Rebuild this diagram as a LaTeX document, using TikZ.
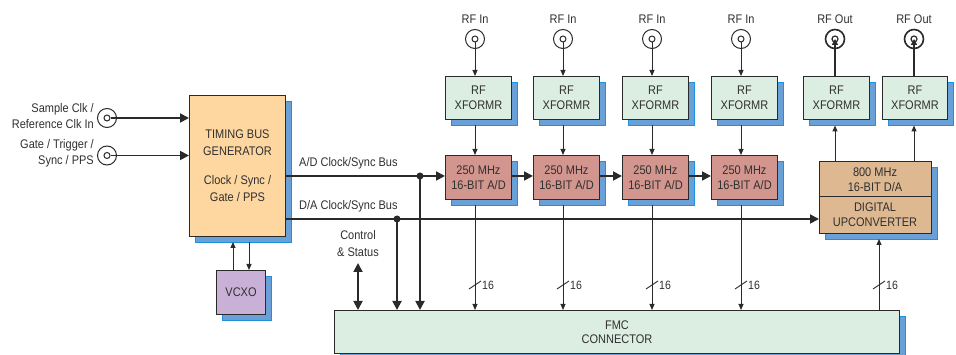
\documentclass[tikz,border=0pt]{standalone}
\usepackage{fontspec}
\setmainfont{Liberation Sans}[FakeStretch=0.88]
\usetikzlibrary{arrows.meta,shadows}
\definecolor{linec}{HTML}{2A2A2A}
\definecolor{txtc}{HTML}{303030}
\definecolor{orng}{HTML}{FDD6A0}
\definecolor{adcc}{HTML}{D2968F}
\definecolor{grn}{HTML}{DCEEE2}
\definecolor{vcx}{HTML}{C8B0D6}
\definecolor{tan}{HTML}{DEB891}
\definecolor{shfill}{HTML}{6AA0D8}
\definecolor{shedge}{HTML}{1E90E0}
\begin{document}
\begin{tikzpicture}[x=1pt,y=-1pt,
  blk/.style={draw=linec, line width=1pt, inner sep=0pt, align=center, text=txtc,
    font=\fontsize{12.5}{15}\selectfont, anchor=north west,
    drop shadow={shadow xshift=5.5pt,shadow yshift=-5.5pt,fill=shfill,draw=shedge,line width=0.8pt,opacity=1}},
  lbl/.style={inner sep=0pt, text=txtc, font=\fontsize{12.5}{15}\selectfont, align=center},
  outc/.style={circle, draw=linec, line width=1pt, minimum size=19pt, inner sep=0pt},
  inc/.style={circle, draw=linec, line width=1pt, minimum size=6pt, inner sep=0pt},
  big/.style={draw=linec, line width=1.8pt, -{Triangle[length=9pt,width=9pt]}},
  small/.style={draw=linec, line width=1pt, -{Triangle[length=6pt,width=5pt]}},
  dot/.style={circle, fill=linec, minimum size=7pt, inner sep=0pt},
  slash/.style={draw=linec, line width=0.9pt}
]
\useasboundingbox (0,0) rectangle (956,355);

% ---------- blocks ----------
\node[blk, fill=orng, minimum width=96pt, minimum height=141pt,
      font=\fontsize{12.5}{17}\selectfont] (tbg) at (189,95)
  {TIMING BUS\\GENERATOR\\[12pt]Clock / Sync /\\Gate / PPS};
\node[blk, fill=vcx, minimum width=49pt, minimum height=44pt] (vcxo) at (216,270) {VCXO};
\node[blk, fill=grn, minimum width=565pt, minimum height=43pt,
      font=\fontsize{12.5}{14}\selectfont] (fmc) at (334,310) {FMC\\CONNECTOR};

\foreach \i/\bx/\lx in {1/445/475,2/533/563,3/622/652,4/711/741}{
  \node[blk, fill=grn, minimum width=66pt, minimum height=43pt] (xf\i) at (\bx,76) {RF\\XFORMR};
  \node[blk, fill=adcc, minimum width=66pt, minimum height=44pt,
        font=\fontsize{12.5}{15.5}\selectfont] (adc\i) at (\bx,155) {250 MHz\\16-BIT A/D};
  \node[outc] (rfo\i) at (\lx,39) {};
  \node[inc] (rf\i) at (\lx,39) {};
  \node[lbl] (rl\i) at (\lx,19) {RF In};
  \draw[small] (rf\i.south) -- (rf\i.south |- xf\i.north);
  \draw[small] ([yshift=-5.5pt]xf\i.south -| rf\i) -- (adc\i.north -| rf\i);
  \draw[small] ([yshift=-5.5pt]adc\i.south -| rf\i) -- (fmc.north -| rf\i);
  \coordinate (s\i) at (\lx,285);
  \draw[slash] ([shift={(-6,4)}]s\i) -- ([shift={(6,-4)}]s\i);
  \node[lbl, anchor=west, font=\fontsize{12}{14}\selectfont] (n\i) at ([xshift=7pt]s\i) {16};
}

% DUC / DAC
\node[blk, fill=tan, minimum width=112pt, minimum height=72pt] (duc) at (819,161) {};
\draw[draw=linec, line width=1pt] (duc.west |- 0,197) -- (duc.east |- 0,197);
\node[lbl] (dac) at (875,179.5) {800 MHz\\16-BIT D/A};
\node[lbl] (dup) at (875,215) {DIGITAL\\UPCONVERTER};

% RF out transformers
\node[blk, fill=grn, minimum width=66pt, minimum height=43pt] (xo1) at (803,76) {RF\\XFORMR};
\node[blk, fill=grn, minimum width=65pt, minimum height=43pt] (xo2) at (882,76) {RF\\XFORMR};
\foreach \i/\lx in {1/835,2/914}{
  \node[outc, line width=1.6pt] (ro\i) at (\lx,39) {};
  \node[inc, line width=1.2pt] (roi\i) at (\lx,39) {};
  \node[lbl] (rol\i) at (\lx,19) {RF Out};
  \draw[draw=linec, line width=1.4pt, -{Triangle[length=6pt,width=6pt]}] (xo\i.north -| ro\i) -- (ro\i.center);
  \draw[small] (duc.north -| ro\i) -- ([yshift=-5.5pt]xo\i.south -| ro\i);
}

% ---------- inputs ----------
\node[outc] (in1o) at (107,118) {};
\node[inc] (in1) at (107,118) {};
\node[outc] (in2o) at (107,155.5) {};
\node[inc] (in2) at (107,155.5) {};
\node[lbl, anchor=east, align=right, font=\fontsize{12.5}{16}\selectfont] (l1) at (94,116) {Sample Clk /\\Reference Clk In};
\node[lbl, anchor=east, align=right, font=\fontsize{12.5}{15.5}\selectfont] (l2) at (94,153.5) {Gate / Trigger /\\Sync / PPS};
\draw[big] (in1.east) -- (tbg.west |- in1);
\draw[big] (in2.east) -- (tbg.west |- in2);

% VCXO arrows
\coordinate (vu) at (233,242);
\coordinate (vd) at (249,242);
\draw[small] (vcxo.north -| vu) -- (vu);
\draw[small] (vd) -- (vcxo.north -| vd);

% ---------- buses ----------
\coordinate (adbus) at (285,176);
\coordinate (dabus) at (285,219);
\draw[big] (tbg.east |- adbus) -- (adc1.west |- adbus);
\draw[big] (tbg.east |- dabus) -- (duc.west |- dabus);
\node[dot] (d1) at (420,176) {};
\node[dot] (d2) at (397,219) {};
\draw[big] (d1.center) -- (fmc.north -| d1);
\draw[big] (d2.center) -- (fmc.north -| d2);
\draw[big] (adc1.east |- adbus) -- (adc2.west |- adbus);
\draw[big] (adc2.east |- adbus) -- (adc3.west |- adbus);
\draw[big] (adc3.east |- adbus) -- (adc4.west |- adbus);
\node[lbl, anchor=west] (adl) at (299,163) {A/D Clock/Sync Bus};
\node[lbl, anchor=west] (dal) at (299,206) {D/A Clock/Sync Bus};

% Control & Status
\node[lbl, font=\fontsize{12.5}{16.5}\selectfont] (cs) at (358,243.5) {Control\\\& Status};
\coordinate (csb) at (358,263);
\draw[big, {Triangle[length=9pt,width=9pt]}-{Triangle[length=9pt,width=9pt]}] (csb) -- (fmc.north -| csb);

% FMC -> DUC
\coordinate (fd) at (879,239);
\draw[small] (fmc.north -| fd) -- (fd);
\coordinate (s5) at (879,285);
\draw[slash] ([shift={(-6,4)}]s5) -- ([shift={(6,-4)}]s5);
\node[lbl, anchor=west, font=\fontsize{12}{14}\selectfont] (n5) at ([xshift=7pt]s5) {16};
\end{tikzpicture}
\end{document}
